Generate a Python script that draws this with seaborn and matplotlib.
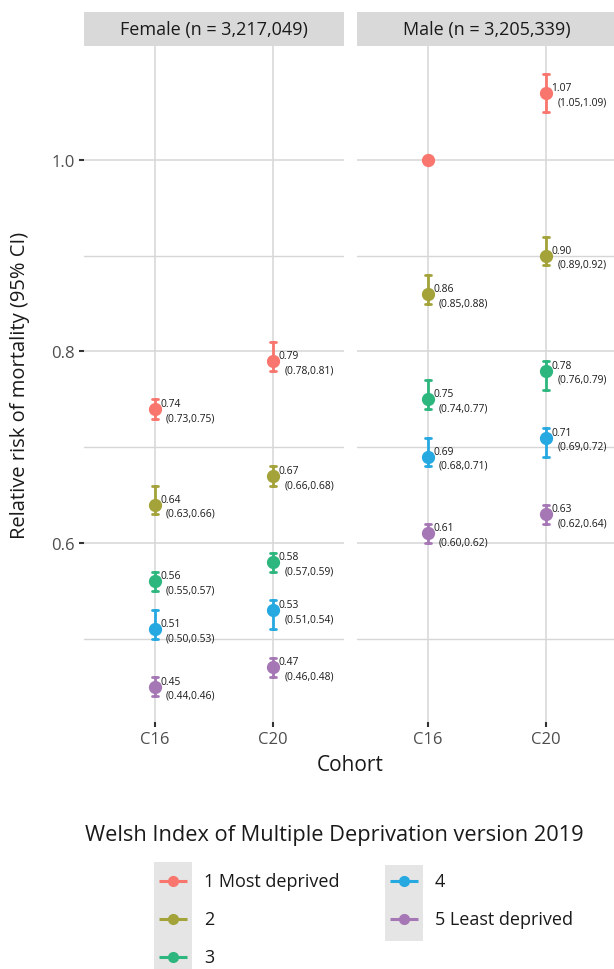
import numpy as np
import pandas as pd
import matplotlib
matplotlib.use("Agg")
import matplotlib.pyplot as plt
import seaborn as sns

sns.set_theme(style="white")
plt.rcParams["font.family"] = ["Open Sans", "DejaVu Sans"]

# data
sexes = ["Female", "Male"]
strip_labels = ["Female (n = 3,217,049)", "Male (n = 3,205,339)"]
cohorts = ["C16", "C20"]
wimd = ["1 Most deprived", "2", "3", "4", "5 Least deprived"]
colours = ["#F8766D", "#A3A33A", "#2DB67D", "#26A9E1", "#A677B5"]

female_c16_rr = [0.74, 0.64, 0.56, 0.51, 0.45]
female_c16_lo = [0.73, 0.63, 0.55, 0.50, 0.44]
female_c16_hi = [0.75, 0.66, 0.57, 0.53, 0.46]
female_c20_rr = [0.79, 0.67, 0.58, 0.53, 0.47]
female_c20_lo = [0.78, 0.66, 0.57, 0.51, 0.46]
female_c20_hi = [0.81, 0.68, 0.59, 0.54, 0.48]
# male C16 / WIMD 1 is the reference group
male_c16_rr = [1.00, 0.86, 0.75, 0.69, 0.61]
male_c16_lo = [1.00, 0.85, 0.74, 0.68, 0.60]
male_c16_hi = [1.00, 0.88, 0.77, 0.71, 0.62]
male_c20_rr = [1.07, 0.90, 0.78, 0.71, 0.63]
male_c20_lo = [1.05, 0.89, 0.76, 0.69, 0.62]
male_c20_hi = [1.09, 0.92, 0.79, 0.72, 0.64]

groups = [
    ("Female", "C16", female_c16_rr, female_c16_lo, female_c16_hi),
    ("Female", "C20", female_c20_rr, female_c20_lo, female_c20_hi),
    ("Male", "C16", male_c16_rr, male_c16_lo, male_c16_hi),
    ("Male", "C20", male_c20_rr, male_c20_lo, male_c20_hi),
]
rows = []
for sex, coh, rr, lo, hi in groups:
    for w, r, l, h in zip(wimd, rr, lo, hi):
        rows.append(dict(sex=sex, cohort=coh, wimd=w, rr=r, lo=l, hi=h))
df = pd.DataFrame(rows)
df["ref"] = (df.sex == "Male") & (df.cohort == "C16") & (df.wimd == wimd[0])

# long format: median = estimate, min/max = CI
long = df.melt(id_vars=["sex", "cohort", "wimd"], value_vars=["lo", "rr", "hi"],
               value_name="value")

W, H = 614, 970
fig = plt.figure(figsize=(W / 100, H / 100), dpi=100)

def px_box(x0, y0, x1, y1):
    return [x0 / W, 1 - y1 / H, (x1 - x0) / W, (y1 - y0) / H]

panel_x = [(84, 344), (357, 617)]
top, bottom = 47, 723
ylim = (0.6 - (bottom - 544) / 957.5, 1.0 + (161 - top) / 957.5)
grid_col = "#d6d6d6"

for i, sex in enumerate(sexes):
    x0, x1 = panel_x[i]
    ax = fig.add_axes(px_box(x0, top, x1, bottom))
    sub = long[long.sex == sex]
    sns.pointplot(data=sub, x="cohort", y="value", hue="wimd", order=cohorts,
                  hue_order=wimd, palette=colours, estimator="median",
                  errorbar=("pi", 100), capsize=0.05, linestyle="none",
                  markers="o", markersize=7.5, err_kws={"linewidth": 2.0},
                  dodge=False, legend=False, ax=ax)
    ax.set_xlim(-0.6, 1.6)
    ax.set_ylim(*ylim)
    ax.set_yticks([0.6, 0.8, 1.0])
    ax.set_yticks([0.5, 0.7, 0.9], minor=True)
    ax.grid(True, which="major", color=grid_col, linewidth=1.1)
    ax.grid(True, which="minor", axis="y", color=grid_col, linewidth=1.0)
    ax.set_axisbelow(True)
    for s in ax.spines.values():
        s.set_visible(False)
    ax.set_xlabel("")
    ax.set_ylabel("")
    ax.tick_params(axis="x", bottom=True, length=3.6, width=1.5, color="#333333",
                   labelsize=12, labelcolor="#4d4d4d", pad=3)
    if i == 0:
        ax.set_yticklabels(["0.6", "0.8", "1.0"])
        ax.tick_params(axis="y", left=True, length=3.6, width=1.5, color="#333333",
                       labelsize=12, labelcolor="#4d4d4d", pad=3)
    else:
        ax.tick_params(axis="y", left=False, labelleft=False)
    ax.tick_params(axis="y", which="minor", left=False)

    # estimate labels
    for _, r in df[(df.sex == sex) & (~df.ref)].iterrows():
        xp = cohorts.index(r.cohort)
        ax.annotate(f"{r.rr:.2f}", xy=(xp, r.rr), xytext=(3.9, 4.0),
                    textcoords="offset points", fontsize=7.4, ha="left",
                    va="center", color="#1a1a1a")
        ax.annotate(f"({r.lo:.2f},{r.hi:.2f})", xy=(xp, r.rr), xytext=(8.0, -6.2),
                    textcoords="offset points", fontsize=7.4, ha="left",
                    va="center", color="#1a1a1a")

    # facet strip
    sax = fig.add_axes(px_box(x0, 13, x1, top))
    sax.set_facecolor("#d9d9d9")
    sax.set_xticks([])
    sax.set_yticks([])
    for s in sax.spines.values():
        s.set_visible(False)
    sax.text(0.5, 0.5, strip_labels[i], transform=sax.transAxes, ha="center",
             va="center", fontsize=13, color="#1a1a1a")

fig.text(20 / W, 1 - 385 / H, "Relative risk of mortality (95% CI)", rotation=90,
         ha="center", va="center", fontsize=14.5, color="#1a1a1a")
fig.text(350 / W, 1 - 766 / H, "Cohort", ha="center", va="center",
         fontsize=15, color="#1a1a1a")

# legend, drawn in pixel coordinates of the bottom strip
lax = fig.add_axes(px_box(0, 800, W, H))
lax.set_xlim(0, W)
lax.set_ylim(H, 800)
lax.axis("off")
lax.text(334, 836, "Welsh Index of Multiple Deprivation version 2019",
         ha="center", va="center", fontsize=15.7, color="#1a1a1a")
row_y = [882, 920, 958]
cols = [(154, 204, wimd[:3], colours[:3], 863, 980),
        (385, 435, wimd[3:], colours[3:], 866, 942)]
for bx, tx, labs, cols_, y0, y1 in cols:
    lax.add_patch(plt.Rectangle((bx, y0), 38, y1 - y0, facecolor="#e5e5e5",
                                edgecolor="none", clip_on=False))
    for j, (lab, c) in enumerate(zip(labs, cols_)):
        y = row_y[j]
        lax.plot([bx + 5, bx + 33], [y, y], color=c, linewidth=2.2,
                 solid_capstyle="butt")
        lax.plot([bx + 19], [y], marker="o", color=c, markersize=7)
        lax.text(tx, y, lab, ha="left", va="center", fontsize=13, color="#1a1a1a")

fig.savefig("out.png", dpi=100)
